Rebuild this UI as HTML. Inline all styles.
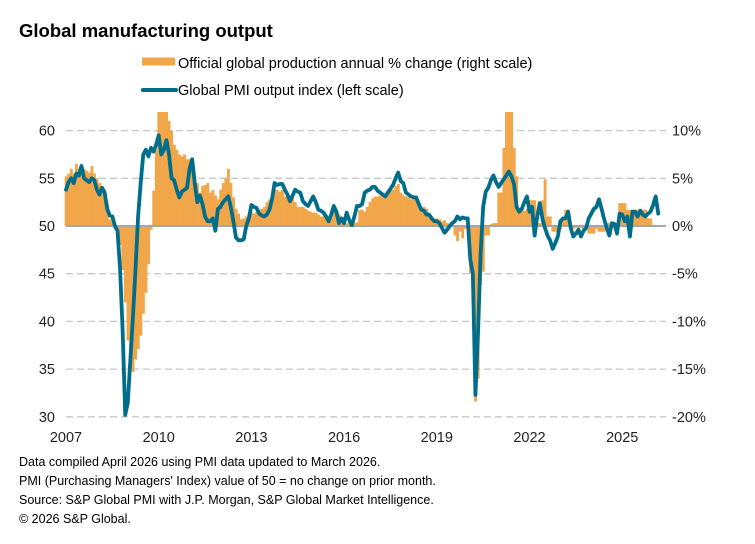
<!DOCTYPE html>
<html><head><meta charset="utf-8"><style>
body{margin:0;background:#fff;}
svg{display:block;font-family:"Liberation Sans",Arial,sans-serif;}
</style></head><body>
<svg id="chart" width="755" height="544" viewBox="0 0 755 544">
<text x="19" y="37" font-size="18.5" font-weight="bold" fill="#000">Global manufacturing output</text>
<g>
<rect x="142" y="57.5" width="33" height="8" fill="#F2A64A"/>
<text x="178" y="68" font-size="14.5" fill="#000">Official global production annual % change (right scale)</text>
<line x1="143" y1="90" x2="176" y2="90" stroke="#006E8A" stroke-width="4" stroke-linecap="round"/>
<text x="178" y="95" font-size="14.5" fill="#000">Global PMI output index (left scale)</text>
</g>
<defs><clipPath id="pc"><rect x="60" y="112" width="610" height="308"/></clipPath></defs>
<g id="grid"></g>
<g id="bars" clip-path="url(#pc)"></g>
<line x1="66" x2="666" y1="226" y2="226" stroke="#A6A6A6" stroke-width="2"/>
<g id="line"></g>
<g id="axes"></g>
<g font-size="12.5" fill="#000">
<text x="19" y="466">Data compiled April 2026 using PMI data updated to March 2026.</text>
<text x="19" y="485">PMI (Purchasing Managers' Index) value of 50 = no change on prior month.</text>
<text x="19" y="504">Source: S&amp;P Global PMI with J.P. Morgan, S&amp;P Global Market Intelligence.</text>
<text x="19" y="523">© 2026 S&amp;P Global.</text>
</g>
</svg>
<script>
const leftTicks=[30,35,40,45,50,55,60];
const rightTicks=[-20,-15,-10,-5,0,5,10];
const rightTickLabels=["-20%","-15%","-10%","-5%","0%","5%","10%"];
const yearTicks=[2007,2010,2013,2016,2019,2022,2025];
const startYear=2007;
const pmi=[
53.8,54.6,55.0,54.5,55.5,55.3,56.3,55.0,54.8,54.6,55.0,54.8,
53.8,53.3,54.0,53.5,51.8,51.1,51.0,50.0,49.5,45.5,39.0,30.2,
31.5,36.0,40.5,45.5,51.0,54.5,57.5,58.0,57.3,58.2,57.8,58.5,
59.5,57.5,58.0,59.0,57.5,55.0,54.8,53.8,53.0,53.6,53.8,54.0,
56.0,57.0,54.5,52.5,53.2,52.3,51.0,50.5,50.5,50.8,49.5,51.8,
52.0,52.5,52.8,53.1,52.0,50.5,48.8,48.5,48.5,48.6,50.0,50.8,
52.2,52.0,51.9,51.3,51.1,51.0,51.2,51.7,52.8,54.5,54.3,54.4,
54.4,53.8,53.3,52.6,53.2,53.8,53.6,53.5,52.6,52.3,52.1,52.6,
53.1,52.5,51.7,51.6,51.4,51.0,50.5,51.2,52.1,51.5,50.3,50.8,
50.3,51.4,50.6,50.1,51.0,52.1,52.1,52.3,53.5,53.7,53.8,54.1,
54.1,53.7,53.5,53.3,53.1,53.5,53.9,54.3,55.0,55.6,54.7,54.5,
53.5,53.3,53.1,53.0,53.0,52.3,51.7,51.6,51.2,51.2,50.8,50.5,
50.5,50.3,49.8,49.3,49.6,50.0,50.3,50.5,51.0,50.7,50.9,50.8,
50.8,46.5,45.0,32.3,38.7,47.0,52.0,53.6,54.0,54.8,55.3,54.6,
54.1,54.5,54.9,55.3,55.7,55.2,54.4,52.0,51.5,51.8,52.5,53.1,
51.5,52.0,49.0,51.0,52.4,50.8,49.8,49.0,48.5,47.6,48.2,48.9,
50.5,50.8,50.8,51.5,49.8,48.9,49.2,49.6,48.9,49.5,49.8,50.8,
51.3,51.8,52.0,52.8,51.8,50.7,49.8,49.0,50.3,50.2,49.2,51.3,
51.2,50.5,51.0,48.9,51.5,51.5,51.0,51.6,51.2,51.0,51.3,51.5,
52.2,53.1,51.3];
const production=[
5.2,5.5,6.0,5.5,6.5,6.0,5.8,6.0,5.8,5.6,6.3,5.5,
5.0,4.5,4.2,3.8,2.4,0.7,0.4,-0.3,-0.5,-2.0,-4.6,-8.0,
-12.0,-14.6,-15.3,-14.0,-12.9,-11.5,-9.2,-7.0,-4.0,-0.4,3.7,8.0,
12.5,13.0,13.0,12.5,11.0,10.0,8.5,8.0,7.5,7.3,7.5,7.0,
7.0,6.5,5.3,4.5,3.5,4.2,4.3,4.5,3.5,3.8,3.2,2.8,
3.8,4.5,5.0,6.0,4.5,3.0,1.8,1.3,0.7,0.8,1.0,1.3,
1.5,1.3,1.5,1.7,1.8,2.0,2.5,2.8,3.2,3.8,3.8,3.6,
3.8,3.1,3.1,3.0,3.1,2.5,2.0,2.0,2.0,1.8,1.6,1.5,
1.4,1.4,1.2,1.0,1.0,1.0,1.0,0.8,1.7,1.5,1.2,0.5,
0.3,0.3,0.3,0.4,0.3,0.4,1.7,1.7,1.5,2.0,2.5,2.9,
3.1,3.1,3.2,3.1,3.4,3.7,3.7,3.8,4.2,4.4,3.5,3.2,
3.1,3.0,2.8,3.0,2.7,2.4,2.0,2.0,1.8,1.2,0.9,0.8,
0.8,0.7,0.5,0.6,0.3,0.1,0.1,-1.0,-1.6,-0.6,-1.3,-0.3,
-0.5,-5.0,-6.5,-18.4,-16.0,-6.2,-4.8,-1.0,-1.0,0.2,0.3,0.3,
3.5,3.5,8.2,12.5,13.0,12.5,8.2,5.2,1.7,1.7,1.6,1.8,
2.7,2.7,2.7,0.3,0.3,2.7,4.9,1.0,1.0,-0.6,-0.6,-0.6,
-0.3,0.8,1.7,1.7,-0.2,-0.3,-0.2,-0.3,-0.2,-0.3,-0.2,-0.8,
-0.8,-0.8,-0.3,-0.6,-0.6,-0.6,0.3,0.3,0.3,0.3,0.3,2.4,
2.4,2.4,1.7,1.7,1.7,1.7,1.7,1.7,1.7,1.7,0.8,0.8,
null,null,null];

const NS="http://www.w3.org/2000/svg";
const X0=66, MONTH=2.575, Y0=226, UNIT=9.54;
function xm(i){return X0+i*MONTH;}
function xYear(y){return X0+(y-startYear)*12*MONTH;}
function yL(v){return Y0-(v-50)*UNIT;}
function yR(p){return Y0-p*UNIT;}
function mk(tag,attrs,parent){const e=document.createElementNS(NS,tag);for(const k in attrs)e.setAttribute(k,attrs[k]);parent.appendChild(e);return e;}

const grid=document.getElementById('grid');
leftTicks.forEach(v=>{
  if(v===50)return;
  const l=mk('line',{x1:66,x2:666,y1:yL(v),y2:yL(v),stroke:'#C8C8C8','stroke-width':1.3,'stroke-dasharray':'7,4'},grid);
  
  
});
const axes=document.getElementById('axes');
leftTicks.forEach(v=>{
  const t=mk('text',{x:55,y:yL(v)+5,'text-anchor':'end','font-size':14.5,fill:'#222'},axes);
  t.textContent=v;
  
  
});
rightTicks.forEach((p,i)=>{
  const t=mk('text',{x:672,y:yR(p)+5,'text-anchor':'start','font-size':14.5,fill:'#222'},axes);
  t.textContent=rightTickLabels[i];
  
  
});
yearTicks.forEach(y=>{
  const t=mk('text',{x:xYear(y),y:442,'text-anchor':'middle','font-size':14.5,fill:'#222'},axes);
  t.textContent=y;
  
  
});
const bars=document.getElementById('bars');
production.forEach((p,i)=>{
  if(p===null)return;
  const y1=yR(Math.max(p,0)), y2=yR(Math.min(p,0));
  const r=mk('rect',{x:xm(i)-MONTH/2,y:y1,width:MONTH+0.3,height:Math.max(y2-y1,0.1),fill:'#F2A64A'},bars);
  
  
});
const lg=document.getElementById('line');
let d='';
pmi.forEach((v,i)=>{d+=(i?'L':'M')+xm(i).toFixed(2)+','+yL(v).toFixed(2);});
const pl=mk('path',{d:d,fill:'none',stroke:'#006E8A','stroke-width':3.8,'stroke-linejoin':'round','stroke-linecap':'round'},lg);


</script>
</body></html>
